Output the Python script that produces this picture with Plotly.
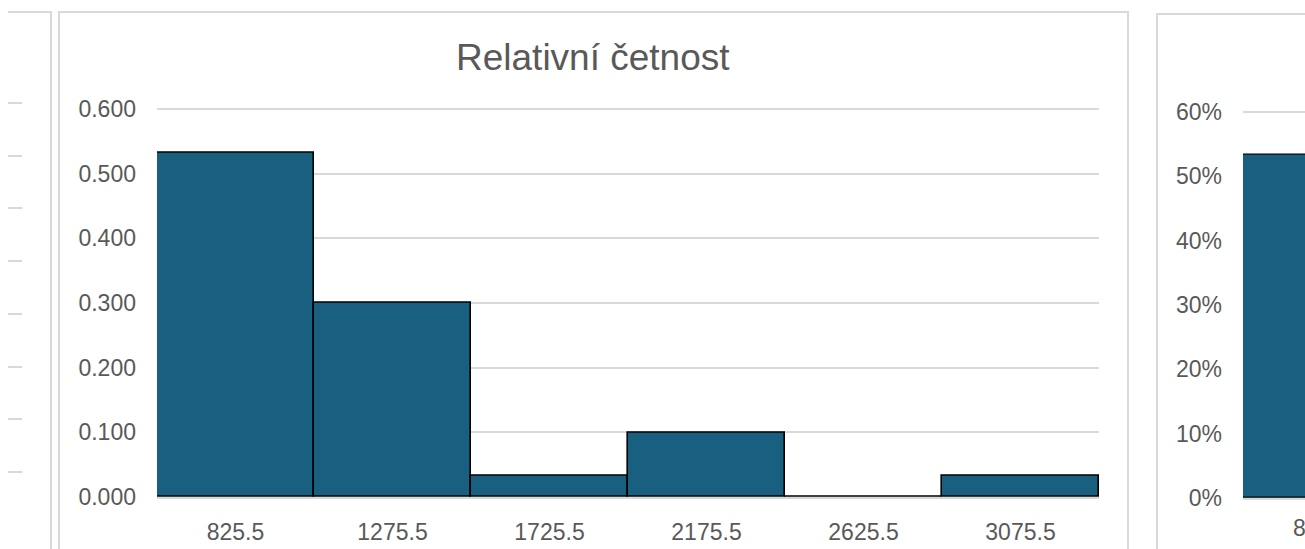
import plotly.graph_objects as go

# ---- data ----
categories = ["825.5", "1275.5", "1725.5", "2175.5", "2625.5", "3075.5"]
rel_freq = [0.533, 0.300, 0.033, 0.100, 0.000, 0.033]
title_text = "Relativní četnost"
right_categories = ["825.5"]
right_values = [0.533]

W, H = 1305, 549
BAR = "#185F80"
GRID = "#D9D9D9"
TXT = "#595959"
FONT = "Liberation Sans, Arial, sans-serif"

def px_x(x):
    return x / W

def px_y(y):
    return 1 - y / H

fig = go.Figure()

# main histogram
fig.add_trace(go.Bar(
    x=categories, y=rel_freq, width=1,
    marker=dict(color=BAR, line=dict(color="#000000", width=1.6)),
    xaxis="x", yaxis="y", showlegend=False,
))

# right partial chart (same data, percent axis)
fig.add_trace(go.Bar(
    x=[0.5], y=right_values, width=1,
    marker=dict(color=BAR, line=dict(color="#000000", width=1.2)),
    xaxis="x2", yaxis="y2", showlegend=False,
))

# left partial chart (only gridlines visible)
fig.add_trace(go.Scatter(x=[], y=[], xaxis="x3", yaxis="y3", showlegend=False))

# main y: 0 at px 497, 0.6 at px 109 -> extend range slightly so top gridline shows
y_top = 0.605
main_top_px = 497 - (497 - 109) * y_top / 0.6
right_top_px = 498 - (498 - 112) * y_top / 0.6
left_unit = (472 - 103) / 7

fig.update_layout(
    width=W, height=H,
    margin=dict(l=0, r=0, t=0, b=0, autoexpand=False),
    paper_bgcolor="white", plot_bgcolor="white",
    bargap=0,
    font=dict(family=FONT, color=TXT, size=23),
    xaxis=dict(
        domain=[px_x(157), px_x(1099)], anchor="y", automargin=False,
        type="category", range=[-0.5, 5.5],
        showgrid=False, showline=True, linecolor=GRID, linewidth=1.5,
        ticks="", ticklabelstandoff=14,
        tickfont=dict(size=23, color=TXT),
    ),
    yaxis=dict(
        domain=[px_y(497), px_y(main_top_px)], anchor="x", automargin=False,
        range=[0, y_top], tickvals=[0, 0.1, 0.2, 0.3, 0.4, 0.5, 0.6], tickformat=".3f",
        showgrid=True, gridcolor=GRID, gridwidth=1.5,
        zeroline=False, showline=False, ticks="",
        ticklabelstandoff=20,
        tickfont=dict(size=23, color=TXT),
    ),
    xaxis2=dict(
        domain=[px_x(1243), 1], anchor="y2", automargin=False,
        range=[0, 62 / 157], showgrid=False, showticklabels=False,
        showline=True, linecolor=GRID, linewidth=1.5, zeroline=False, ticks="",
    ),
    yaxis2=dict(
        domain=[px_y(498), px_y(right_top_px)], anchor="x2", automargin=False,
        range=[0, y_top], tickvals=[0, 0.1, 0.2, 0.3, 0.4, 0.5, 0.6], tickformat=".0%",
        showgrid=True, gridcolor=GRID, gridwidth=1.5,
        zeroline=False, showline=False, ticks="",
        ticklabelstandoff=20,
        tickfont=dict(size=23, color=TXT),
    ),
    xaxis3=dict(
        domain=[px_x(8), px_x(22)], anchor="y3", automargin=False,
        showgrid=False, showticklabels=False, zeroline=False, showline=False,
        range=[0, 1],
    ),
    yaxis3=dict(
        domain=[px_y(472 + 0.1 * left_unit), px_y(103 - 0.1 * left_unit)],
        anchor="x3", automargin=False,
        range=[-0.1, 7.1], tickvals=[0, 1, 2, 3, 4, 5, 6, 7],
        showgrid=True, gridcolor=GRID, gridwidth=1.5,
        showticklabels=False, zeroline=False, showline=False,
    ),
)

# title
fig.add_annotation(
    text=title_text, xref="paper", yref="paper",
    x=px_x(593), y=px_y(57), xanchor="center", yanchor="middle",
    showarrow=False, font=dict(size=37, color=TXT, family=FONT),
)

# partial tick label of right chart
fig.add_annotation(
    text=right_categories[0], xref="paper", yref="paper",
    x=px_x(1243 + 78.5), y=px_y(528), xanchor="center", yanchor="middle",
    showarrow=False, font=dict(size=23, color=TXT, family=FONT),
)

# chart frames
frame = dict(color=GRID, width=2)
fig.add_shape(type="path", xref="paper", yref="paper",
              path=f"M {px_x(8)} {px_y(12)} L {px_x(51)} {px_y(12)} L {px_x(51)} -0.05",
              line=frame, layer="below")
fig.add_shape(type="rect", xref="paper", yref="paper",
              x0=px_x(59), x1=px_x(1128), y0=-0.05, y1=px_y(12),
              line=frame, layer="below")
fig.add_shape(type="path", xref="paper", yref="paper",
              path=f"M {px_x(1157)} -0.05 L {px_x(1157)} {px_y(14)} L 1.05 {px_y(14)}",
              line=frame, layer="below")

fig.write_html(
    "out.html",
    config={"displayModeBar": False},
    post_script="document.body.style.margin='0';document.body.style.overflow='hidden';",
)
